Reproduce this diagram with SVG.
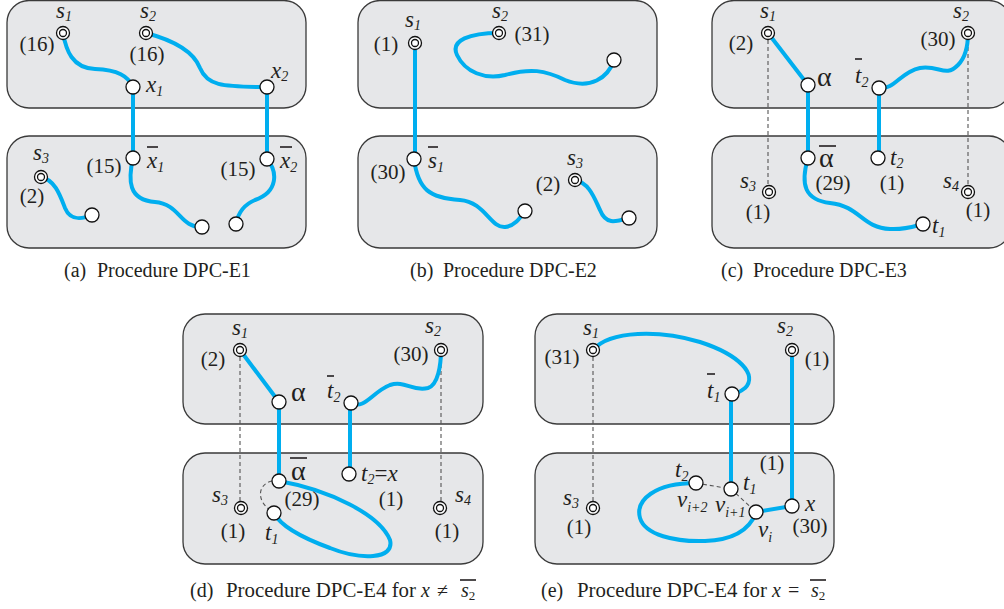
<svg xmlns="http://www.w3.org/2000/svg" xmlns:xlink="http://www.w3.org/1999/xlink" width="1004" height="609" viewBox="0 0 1004 609">
<style>
.box{fill:#e6e7e9;stroke:#3a3a3a;stroke-width:1.3}
.e{fill:none;stroke:#00aeef;stroke-width:4;stroke-linecap:round}
.d{fill:none;stroke:#555;stroke-width:1.1;stroke-dasharray:4 3}
.n{fill:#fff;stroke:#111;stroke-width:1.3}
.bar{stroke:#231f20;stroke-width:1.6}
text{font-family:"Liberation Serif","Times New Roman",serif;fill:#231f20}
.lab{font-size:21px;text-anchor:middle}
.it{font-style:italic;font-size:23px}
.sub{font-size:14px}
.al{font-size:28px}
.cap{font-size:20px}
</style>
<defs>
<g id="dc"><circle class="n" r="6.5"/><circle class="n" r="3.5"/></g>
<circle id="sc" class="n" r="7"/>
</defs>

<g id="boxes">
<rect class="box" x="7" y="0.5" width="299" height="107.5" rx="22"/>
<rect class="box" x="7" y="136" width="299" height="112" rx="22"/>
<rect class="box" x="358" y="0.5" width="299" height="107.5" rx="22"/>
<rect class="box" x="358" y="136" width="299" height="112" rx="22"/>
<rect class="box" x="712" y="0.5" width="299" height="107.5" rx="22"/>
<rect class="box" x="712" y="136" width="299" height="112" rx="22"/>
<rect class="box" x="183" y="314" width="300" height="110" rx="22"/>
<rect class="box" x="183" y="453" width="300" height="111" rx="22"/>
<rect class="box" x="535" y="314" width="299" height="110" rx="22"/>
<rect class="box" x="535" y="453" width="299" height="111" rx="22"/>
</g>

<g id="connectors">
<!-- (a) -->
<path class="e" d="M63,33 C66,50 72,68 95,69 C118,70 128,76 133,87"/>
<path class="e" d="M146,33 C180,42 195,55 200,68 C207,85 220,87 267,87"/>
<path class="e" d="M133,87 V158"/>
<path class="e" d="M267,87 V159"/>
<path class="e" d="M41,177 C55,180 60,195 65,208 C70,220 80,220 92,215"/>
<path class="e" d="M133,158 C128,180 128,200 155,202 C180,204 180,228 202,227"/>
<path class="e" d="M267,159 C278,172 278,192 255,200 C243,205 238,213 236,224"/>
<!-- (b) -->
<path class="e" d="M415,43 V159"/>
<path class="e" d="M499,33 C470,33 450,40 457,55 C465,72 485,80 505,75 C530,68 545,70 565,80 C590,90 608,78 614,60"/>
<path class="e" d="M414,159 C418,190 430,198 460,200 C485,202 490,228 505,227 C515,226 520,218 525,211"/>
<path class="e" d="M575,180 C590,183 595,200 600,210 C606,225 615,222 629,218"/>
<!-- (c) -->
<path class="d" d="M768,33 V192"/>
<path class="d" d="M968,33 V192"/>
<path class="e" d="M768,33 L808,85"/>
<path class="e" d="M808,85 V158"/>
<path class="e" d="M879,88 C895,90 900,72 920,68 C940,65 945,78 958,65 C965,58 968,45 968,33"/>
<path class="e" d="M879,88 V158"/>
<path class="e" d="M808,158 C800,185 805,200 830,203 C860,206 862,228 890,229 C905,230 915,226 923,224"/>
<!-- (d) -->
<path class="d" d="M240,350 V508"/>
<path class="d" d="M441,350 V508"/>
<path class="d" d="M272,481 C258,484 256,500 270,510"/>
<path class="e" d="M240,350 L279,402"/>
<path class="e" d="M279,402 V481"/>
<path class="e" d="M351,403 C365,410 372,392 390,385 C405,380 412,392 428,388 C438,385 441,365 441,350"/>
<path class="e" d="M350,403 V474"/>
<path class="e" d="M279,481 C330,490 380,515 390,540 C395,560 360,560 330,548 C300,537 280,525 274,513"/>
<!-- (e) -->
<path class="d" d="M593,350 V508"/>
<path class="d" d="M696,483 L731,489 L756,512"/>
<path class="e" d="M593,350 C610,330 660,330 700,342 C740,355 758,375 745,388 C740,392 736,394 732,394"/>
<path class="e" d="M731,394 V489"/>
<path class="e" d="M792,350 V506"/>
<path class="e" d="M792,506 L756,512"/>
<path class="e" d="M696,483 C655,483 635,500 640,518 C645,535 675,542 705,541 C735,540 750,528 756,513"/>
</g>

<!-- (a) nodes -->
<g id="a-s1"><use href="#dc" x="63" y="33"/><text class="it" x="56" y="18">s<tspan class="sub" dy="3">1</tspan></text><text class="lab" x="37" y="51">(16)</text></g>
<g id="a-s2"><use href="#dc" x="146" y="33"/><text class="it" x="140" y="18">s<tspan class="sub" dy="3">2</tspan></text><text class="lab" x="147" y="61">(16)</text></g>
<g id="a-x1"><use href="#sc" x="133" y="87"/><text class="it" x="146" y="92">x<tspan class="sub" dy="4">1</tspan></text></g>
<g id="a-x2"><use href="#sc" x="267" y="87"/><text class="it" x="271" y="78">x<tspan class="sub" dy="3">2</tspan></text></g>
<g id="a-x1b"><use href="#sc" x="133" y="158"/><line class="bar" x1="147" y1="147" x2="158" y2="147"/><text class="it" x="147" y="168">x<tspan class="sub" dy="4">1</tspan></text><text class="lab" x="104" y="173">(15)</text></g>
<g id="a-x2b"><use href="#sc" x="267" y="159"/><line class="bar" x1="280" y1="147" x2="292" y2="147"/><text class="it" x="280" y="168">x<tspan class="sub" dy="4">2</tspan></text><text class="lab" x="238" y="176">(15)</text></g>
<g id="a-s3"><use href="#dc" x="41" y="177"/><text class="it" x="33" y="160">s<tspan class="sub" dy="3">3</tspan></text><text class="lab" x="32" y="203">(2)</text></g>
<g id="a-n1"><use href="#sc" x="92" y="215"/></g>
<g id="a-n2"><use href="#sc" x="202" y="227"/></g>
<g id="a-n3"><use href="#sc" x="236" y="224"/></g>

<!-- (b) nodes -->
<g id="b-s1"><use href="#dc" x="415" y="43"/><text class="it" x="405" y="27">s<tspan class="sub" dy="3">1</tspan></text><text class="lab" x="386" y="51">(1)</text></g>
<g id="b-s2"><use href="#dc" x="499" y="33"/><text class="it" x="492" y="18">s<tspan class="sub" dy="3">2</tspan></text><text class="lab" x="532" y="41">(31)</text></g>
<g id="b-n1"><use href="#sc" x="614" y="60"/></g>
<g id="b-s1b"><use href="#sc" x="414" y="159"/><line class="bar" x1="428" y1="147" x2="438" y2="147"/><text class="it" x="428" y="168">s<tspan class="sub" dy="4">1</tspan></text><text class="lab" x="388" y="179">(30)</text></g>
<g id="b-n2"><use href="#sc" x="525" y="211"/></g>
<g id="b-s3"><use href="#dc" x="575" y="180"/><text class="it" x="567" y="165">s<tspan class="sub" dy="3">3</tspan></text><text class="lab" x="548" y="191">(2)</text></g>
<g id="b-n3"><use href="#sc" x="629" y="218"/></g>

<!-- (c) nodes -->
<g id="c-s1"><use href="#dc" x="768" y="33"/><text class="it" x="760" y="18">s<tspan class="sub" dy="3">1</tspan></text><text class="lab" x="741" y="50">(2)</text></g>
<g id="c-alpha"><use href="#sc" x="808" y="85"/><text class="al" x="817" y="86">α</text></g>
<g id="c-t2b"><use href="#sc" x="879" y="88"/><line class="bar" x1="855" y1="59" x2="862" y2="59"/><text class="it" x="855" y="83">t<tspan class="sub" dy="4">2</tspan></text></g>
<g id="c-s2"><use href="#dc" x="968" y="33"/><text class="it" x="953" y="18">s<tspan class="sub" dy="3">2</tspan></text><text class="lab" x="938" y="46">(30)</text></g>
<g id="c-alphab"><use href="#sc" x="808" y="158"/><line class="bar" x1="819" y1="146" x2="836" y2="146"/><text class="al" x="819" y="167">α</text><text class="lab" x="833" y="190">(29)</text></g>
<g id="c-t2"><use href="#sc" x="878" y="158"/><text class="it" x="890" y="165">t<tspan class="sub" dy="3">2</tspan></text><text class="lab" x="892" y="190">(1)</text></g>
<g id="c-s3"><use href="#dc" x="769" y="192"/><text class="it" x="740" y="188">s<tspan class="sub" dy="3">3</tspan></text><text class="lab" x="758" y="219">(1)</text></g>
<g id="c-s4"><use href="#dc" x="968" y="192"/><text class="it" x="943" y="188">s<tspan class="sub" dy="3">4</tspan></text><text class="lab" x="978" y="217">(1)</text></g>
<g id="c-t1"><use href="#sc" x="923" y="224"/><text class="it" x="932" y="233">t<tspan class="sub" dy="4">1</tspan></text></g>

<!-- (d) nodes -->
<g id="d-s1"><use href="#dc" x="240" y="350"/><text class="it" x="232" y="335">s<tspan class="sub" dy="3">1</tspan></text><text class="lab" x="213" y="366">(2)</text></g>
<g id="d-alpha"><use href="#sc" x="279" y="402"/><text class="al" x="291" y="401">α</text></g>
<g id="d-t2b"><use href="#sc" x="351" y="403"/><line class="bar" x1="327" y1="376" x2="334" y2="376"/><text class="it" x="327" y="398">t<tspan class="sub" dy="4">2</tspan></text></g>
<g id="d-s2"><use href="#dc" x="441" y="350"/><text class="it" x="425" y="333">s<tspan class="sub" dy="3">2</tspan></text><text class="lab" x="411" y="361">(30)</text></g>
<g id="d-alphab"><use href="#sc" x="279" y="481"/><line class="bar" x1="290" y1="458" x2="307" y2="458"/><text class="al" x="291" y="480">α</text><text class="lab" x="302" y="506">(29)</text></g>
<g id="d-t2x"><use href="#sc" x="349" y="474"/><text class="it" x="361" y="481">t<tspan class="sub" dy="3">2</tspan><tspan dy="-3" font-style="normal">=</tspan>x</text><text class="lab" x="391" y="506">(1)</text></g>
<g id="d-s3"><use href="#dc" x="241" y="508"/><text class="it" x="212" y="502">s<tspan class="sub" dy="3">3</tspan></text><text class="lab" x="233" y="538">(1)</text></g>
<g id="d-s4"><use href="#dc" x="440" y="508"/><text class="it" x="455" y="502">s<tspan class="sub" dy="3">4</tspan></text><text class="lab" x="447" y="538">(1)</text></g>
<g id="d-t1"><use href="#sc" x="274" y="513"/><text class="it" x="265" y="540">t<tspan class="sub" dy="4">1</tspan></text></g>

<!-- (e) nodes -->
<g id="e-s1"><use href="#dc" x="593" y="350"/><text class="it" x="583" y="335">s<tspan class="sub" dy="3">1</tspan></text><text class="lab" x="562" y="364">(31)</text></g>
<g id="e-s2"><use href="#dc" x="792" y="350"/><text class="it" x="777" y="333">s<tspan class="sub" dy="3">2</tspan></text><text class="lab" x="817" y="366">(1)</text></g>
<g id="e-t1b"><use href="#sc" x="732" y="394"/><line class="bar" x1="707" y1="374" x2="715" y2="374"/><text class="it" x="707" y="398">t<tspan class="sub" dy="4">1</tspan></text></g>
<g id="e-t2"><use href="#sc" x="696" y="483"/><text class="it" x="675" y="477">t<tspan class="sub" dy="4">2</tspan></text><text class="it" x="677" y="507">v<tspan class="sub" dy="5">i+2</tspan></text></g>
<g id="e-t1"><use href="#sc" x="731" y="489"/><text class="it" x="743" y="490">t<tspan class="sub" dy="4">1</tspan></text><text class="lab" x="772" y="470">(1)</text><text class="it" x="715" y="512">v<tspan class="sub" dy="5">i+1</tspan></text></g>
<g id="e-vi"><use href="#sc" x="756" y="512"/><text class="it" x="758" y="537">v<tspan class="sub" dy="5">i</tspan></text></g>
<g id="e-x"><use href="#sc" x="792" y="506"/><text class="it" x="805" y="511">x</text><text class="lab" x="810" y="533">(30)</text></g>
<g id="e-s3"><use href="#dc" x="593" y="508"/><text class="it" x="563" y="505">s<tspan class="sub" dy="3">3</tspan></text><text class="lab" x="579" y="534">(1)</text></g>

<!-- captions -->
<g id="cap-a"><text class="cap" x="64" y="277">(a)</text><text class="cap" x="97" y="277">Procedure DPC-E1</text></g>
<g id="cap-b"><text class="cap" x="410" y="277">(b)</text><text class="cap" x="443" y="277">Procedure DPC-E2</text></g>
<g id="cap-c"><text class="cap" x="721" y="277">(c)</text><text class="cap" x="753" y="277">Procedure DPC-E3</text></g>
<g id="cap-d"><text class="cap" x="190" y="597">(d)</text><text class="cap" x="226" y="597" textLength="190" lengthAdjust="spacingAndGlyphs">Procedure DPC-E4 for</text><text class="cap" x="421" y="597" font-style="italic">x</text><text class="cap" x="437" y="597">≠</text><text class="cap" x="461" y="597" font-style="italic">s<tspan font-size="13" font-style="normal" dy="3">2</tspan></text><line class="bar" x1="460" y1="580" x2="476" y2="580"/></g>
<g id="cap-e"><text class="cap" x="541" y="597">(e)</text><text class="cap" x="577" y="597" textLength="190" lengthAdjust="spacingAndGlyphs">Procedure DPC-E4 for</text><text class="cap" x="772" y="597" font-style="italic">x</text><text class="cap" x="788" y="597">=</text><text class="cap" x="811" y="597" font-style="italic">s<tspan font-size="13" font-style="normal" dy="3">2</tspan></text><line class="bar" x1="810" y1="580" x2="826" y2="580"/></g>
</svg>
